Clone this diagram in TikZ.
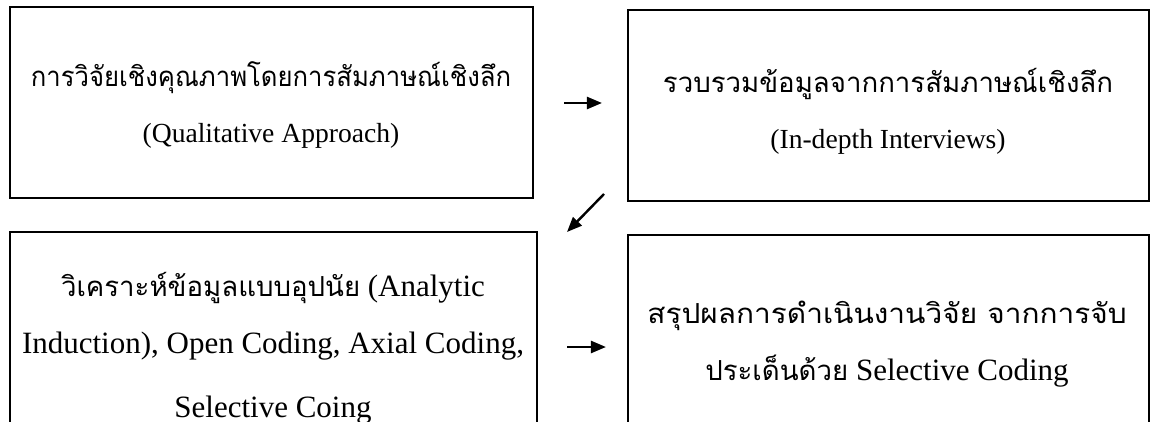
\documentclass[tikz,border=0pt]{standalone}
\usepackage{fontspec}
\setmainfont{Liberation Serif}
\newfontfamily\thai[Script=Thai]{Loma}
\newfontfamily\thainarrow[Script=Thai, FakeStretch=0.93]{Loma}
\newfontfamily\thaismall[Script=Thai, Scale=0.89]{Loma}
\newfontfamily\thaiwide[Script=Thai, Scale=0.89, FakeStretch=1.08]{Loma}
\usetikzlibrary{arrows.meta}
\tikzset{
	stagebox/.style={draw=black, line width=0.75mm, fill=none, inner sep=0pt},
	stagetext/.style={align=center, font=\fontsize{27.6}{56}\selectfont, inner sep=0pt},
	bigtext/.style={align=center, font=\fontsize{31}{57}\selectfont, inner sep=0pt},
	flow/.style={line width=0.85mm, -{Triangle[length=15pt,width=12pt]}}
}
\begin{document}
\begin{tikzpicture}[x=1pt, y=1pt]
		%%%%% START %%%%%
		\useasboundingbox (0, 0) rectangle (1151, 421);
		\clip (0, 0) rectangle (1151, 421);
		
		\node[stagebox, minimum width=523, minimum height=191] (design) at (271.5, 318.5) {};
		\node[stagebox, minimum width=521, minimum height=191] (collect) at (888.5, 315.5) {};
		\node[stagebox, minimum width=527, minimum height=230] (analyse) at (273.5, 74) {};
		\node[stagebox, minimum width=521, minimum height=230] (conclude) at (888.5, 71) {};
		
		\node[stagetext] (designtext) at (271, 316) {{\thainarrow การวิจัยเชิงคุณภาพโดยการสัมภาษณ์เชิงลึก}\\(Qualitative Approach)};
		\node[stagetext] (collecttext) at (888, 310) {{\thai รวบรวมข้อมูลจากการสัมภาษณ์เชิงลึก}\\(In-depth Interviews)};
		\node[bigtext] (analysetext) at (273, 73) {{\thaismall วิเคราะห์ข้อมูลแบบอุปนัย} (Analytic\\Induction), Open Coding, Axial Coding,\\[7pt]Selective Coing};
		\node[bigtext] (concludetext) at (887, 77) {{\thaiwide สรุปผลการดำเนินงานวิจัย จากการจับ}\\{\thaismall ประเด็นด้วย} Selective Coding};
		
		% arrows between the stages
		\coordinate (a1) at ([xshift=30pt]design.east |- 0, 318);
		\coordinate (b1) at ([xshift=-25pt]collect.west |- 0, 318);
		\draw[flow] (a1) -- (b1);
		
		\coordinate (a2) at (604, 227);
		\coordinate (b2) at (567, 189);
		\draw[flow] (a2) -- (b2);
		
		\coordinate (a3) at ([xshift=29pt]analyse.east |- 0, 74);
		\coordinate (b3) at ([xshift=-21pt]conclude.west |- 0, 74);
		\draw[flow] (a3) -- (b3);
		%%%%% END %%%%%
	\end{tikzpicture}
\end{document}
